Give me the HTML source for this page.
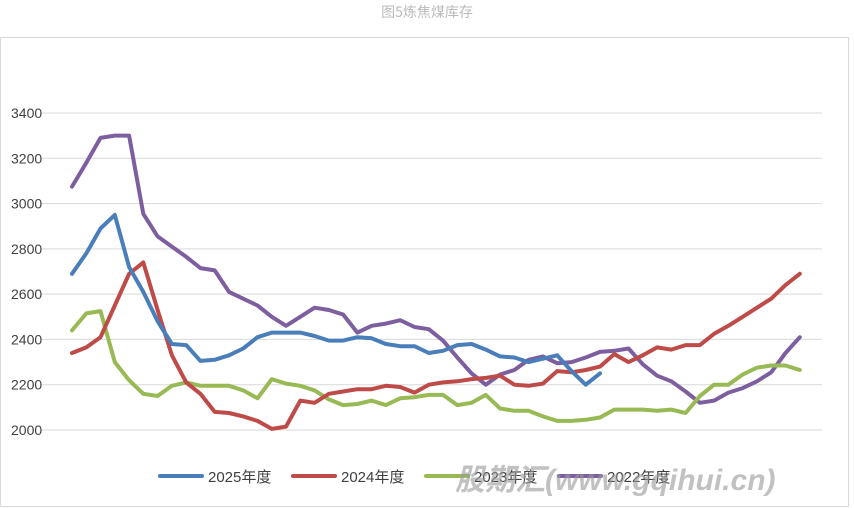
<!DOCTYPE html><html><head><meta charset="utf-8"><style>body{margin:0;background:#fff}svg{display:block}</style></head><body>
<svg id="s" width="854" height="508" xmlns="http://www.w3.org/2000/svg" font-family="Liberation Sans, Noto Sans CJK SC, sans-serif">
<text x="427" y="17" text-anchor="middle" font-size="14" fill="#bbb" font-family="Noto Sans CJK SC, sans-serif">图5炼焦煤库存</text>
<rect x="0.5" y="37.5" width="848" height="469" fill="none" stroke="#d9d9d9"/>
<g id="g" stroke="#d9d9d9" stroke-width="1"></g>
<g id="l" font-size="14" fill="#404040"></g>
<g id="p" fill="none" stroke-width="4" stroke-linejoin="round" stroke-linecap="round"></g>
<g font-size="15" fill="#404040" font-family="Liberation Sans, Noto Sans CJK SC, sans-serif">
<line x1="160" y1="476" x2="202" y2="476" stroke="#4a7ebb" stroke-width="4" stroke-linecap="round"/><text x="208" y="482">2025年度</text>
<line x1="293" y1="476" x2="335" y2="476" stroke="#be4b48" stroke-width="4" stroke-linecap="round"/><text x="341" y="482">2024年度</text>
<line x1="426" y1="476" x2="468" y2="476" stroke="#98b954" stroke-width="4" stroke-linecap="round"/><text x="474" y="482">2023年度</text>
<line x1="559" y1="476" x2="601" y2="476" stroke="#7d5fa0" stroke-width="4" stroke-linecap="round"/><text x="607" y="482">2022年度</text>
</g>
<text x="455" y="490" font-size="30" font-weight="bold" font-style="italic" fill="#999" opacity="0.6">股期汇(www.gqihui.cn)</text>
</svg>
<script>
var Y=v=>430-(v-2000)*317/1400,ns="http://www.w3.org/2000/svg";
var g=document.getElementById('g'),l=document.getElementById('l'),p=document.getElementById('p');
for(var v=2000;v<=3400;v+=200){var e=document.createElementNS(ns,'line');e.setAttribute('x1',42);e.setAttribute('x2',822);e.setAttribute('y1',Y(v));e.setAttribute('y2',Y(v));g.appendChild(e);
var t=document.createElementNS(ns,'text');t.setAttribute('x',11);t.setAttribute('y',Y(v)+5);t.textContent=v;l.appendChild(t);}
var D=[
["#7d5fa0",[3075,3180,3290,3300,3300,2955,2855,2810,2765,2715,2705,2610,2580,2550,2500,2460,2500,2540,2530,2510,2430,2460,2470,2485,2455,2445,2395,2320,2250,2200,2245,2265,2310,2325,2295,2300,2320,2345,2350,2360,2290,2240,2215,2170,2120,2130,2165,2185,2215,2255,2340,2410]],
["#98b954",[2440,2515,2525,2300,2220,2160,2150,2195,2210,2195,2195,2195,2175,2140,2225,2205,2195,2175,2135,2110,2115,2130,2110,2140,2145,2155,2155,2110,2120,2155,2095,2085,2085,2060,2040,2040,2045,2055,2090,2090,2090,2085,2090,2075,2150,2200,2200,2245,2275,2285,2285,2265]],
["#be4b48",[2340,2365,2410,2550,2690,2740,2530,2330,2210,2160,2080,2075,2060,2040,2005,2015,2130,2120,2160,2170,2180,2180,2195,2190,2165,2200,2210,2215,2225,2230,2240,2200,2195,2205,2260,2255,2265,2280,2335,2300,2330,2365,2355,2375,2375,2425,2460,2500,2540,2580,2640,2690]],
["#4a7ebb",[2690,2780,2890,2950,2720,2610,2480,2380,2375,2305,2310,2330,2360,2410,2430,2430,2430,2415,2395,2395,2410,2405,2380,2370,2370,2340,2350,2375,2380,2355,2325,2320,2300,2315,2330,2260,2200,2250]]];
D.forEach(function(s){var e=document.createElementNS(ns,'polyline');e.setAttribute('stroke',s[0]);e.setAttribute('points',s[1].map((v,i)=>(72+i*14.27).toFixed(1)+','+Y(v).toFixed(1)).join(' '));p.appendChild(e);});
</script>
</body></html>
